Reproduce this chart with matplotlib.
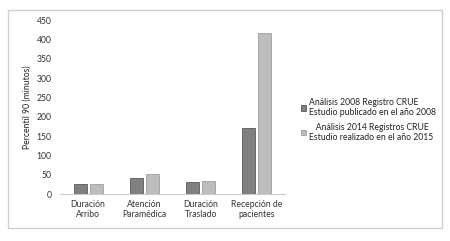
import matplotlib
matplotlib.use("Agg")
import matplotlib.pyplot as plt
import numpy as np
from matplotlib.patches import Rectangle

plt.rcParams['font.family'] = ['Lato', 'DejaVu Sans']

categories = ["Duración\nArribo", "Atención\nParamédica", "Duración\nTraslado", "Recepción de\npacientes"]
series_2008 = [26, 42, 31, 170]
series_2014 = [27, 52, 34, 417]
label_2008 = "Análisis 2008 Registro CRUE\nEstudio publicado en el año 2008"
label_2014 = "   Análisis 2014 Registros CRUE\nEstudio realizado en el año 2015"
yticks = [0, 50, 100, 150, 200, 250, 300, 350, 400, 450]

fig = plt.figure(figsize=(4.5, 2.41), dpi=100)
fig.patch.set_facecolor('white')
fig.patches.append(Rectangle((8/450, 1-228/241), (442-8)/450, (228-10)/241,
                             transform=fig.transFigure, fill=False,
                             edgecolor='#d0d0d0', linewidth=1.0))

ax = fig.add_axes([60/450, 1-194/241, 225/450, 174/241])
x = np.arange(len(categories))
w = 0.23
g = 0.055
ax.bar(x - (w+g)/2, series_2008, w, color='#808080', edgecolor='#5a5a5a', linewidth=0.6, label=label_2008)
ax.bar(x + (w+g)/2, series_2014, w, color='#bdbdbd', edgecolor='#a0a0a0', linewidth=0.6, label=label_2014)

fs = 6.2
ax.set_xlim(-0.5, 3.5)
ax.set_ylim(0, 450)
ax.set_yticks(yticks)
ax.set_xticks(x)
ax.set_xticklabels(categories, fontsize=fs, color='#333333', linespacing=1.25)
ax.tick_params(axis='y', labelsize=fs, colors='#333333', length=0, pad=6)
ax.tick_params(axis='x', length=0, pad=4)
for s in ['top', 'right', 'left']:
    ax.spines[s].set_visible(False)
ax.spines['bottom'].set_color('#c8c8c8')
ax.spines['bottom'].set_linewidth(0.8)
ax.set_ylabel("Percentil 90 (minutos)", fontsize=fs, color='#222222', labelpad=4)

leg = fig.legend(loc='center left', bbox_to_anchor=(293/450, 1-120/241), frameon=False,
                 fontsize=fs, handlelength=0.6, handleheight=0.6, handletextpad=0.4,
                 labelspacing=0.6, labelcolor='#222222')

fig.savefig("out.png", dpi=100, facecolor='white')
